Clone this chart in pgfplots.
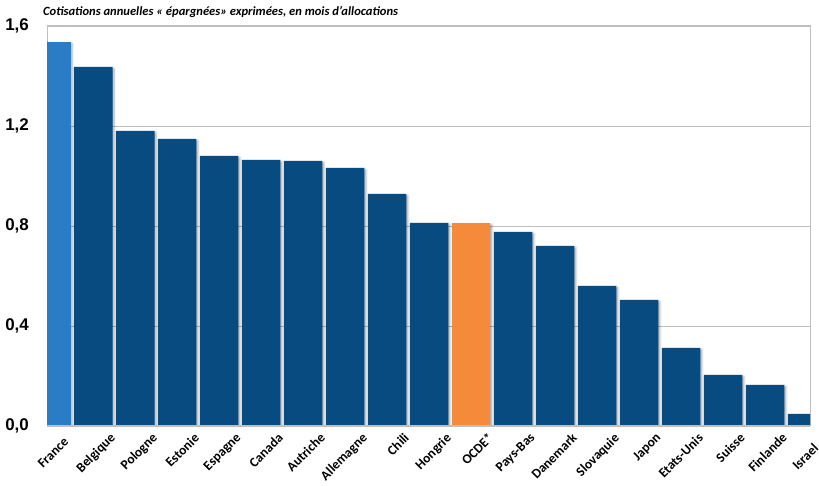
\documentclass[border=0pt]{standalone}
\usepackage{pgfplots}
\pgfplotsset{compat=1.18}
\usepackage{fontspec}
\setmainfont{Carlito}
\newfontfamily\numfont{Liberation Sans}
\usetikzlibrary{shadows.blur}

\definecolor{barblue}{HTML}{074B80}
\definecolor{frblue}{HTML}{2A7DC4}
\definecolor{oecdorange}{HTML}{F58A3A}
\definecolor{gridgray}{HTML}{BFBFBF}

\begin{document}
\begin{tikzpicture}[x=1bp,y=1bp]
\useasboundingbox (0,0) rectangle (819,486);
\begin{axis}[
  at={(47bp,60bp)}, anchor=south west,
  width=763bp, height=400bp, scale only axis,
  ybar, bar width=0.92,
  xmin=-0.1, xmax=18.07,
  ymin=0, ymax=1.6,
  ytick={0,0.4,0.8,1.2,1.6},
  xtick={0,...,18},
  xticklabels={France\kern6bp,Belgique,Pologne,Estonie,Espagne,Canada,Autriche,Allemagne,Chili,Hongrie,OCDE*,Pays-Bas,Danemark,Slovaquie,Japon,Etats-Unis,Suisse,Finlande,Israel\kern15bp},
  x tick label style={font=\fontsize{13.5}{15}\selectfont\bfseries, inner sep=0pt, xshift=16bp, yshift=-6bp, rotate=45, anchor=north east},
  y tick label style={font=\fontsize{17}{19}\selectfont\numfont\bfseries, inner sep=0pt, xshift=-18bp},
  /pgf/number format/.cd, use comma, fixed, fixed zerofill, precision=1, assume math mode=true,
  /pgfplots/.cd,
  ymajorgrids, grid style={gridgray, line width=0.8pt},
  major tick length=0pt,
  axis line style={gridgray, line width=1pt},
  clip=true,
]
% Belgique to Israel
\addplot[fill=barblue, draw=none, bar shift=0pt,
  blur shadow={shadow xshift=1.5bp, shadow yshift=-1.5bp, shadow blur radius=2bp, shadow opacity=35}]
  coordinates {
  (1,1.436) (2,1.180) (3,1.148) (4,1.080) (5,1.064) (6,1.060) (7,1.032)
  (8,0.928) (9,0.812) (11,0.776) (12,0.720) (13,0.560) (14,0.504)
  (15,0.312) (16,0.204) (17,0.164) (18,0.048)};
% France
\addplot[fill=frblue, draw=none, bar shift=0pt,
  blur shadow={shadow xshift=1.5bp, shadow yshift=-1.5bp, shadow blur radius=2bp, shadow opacity=35}]
  coordinates {(0,1.536)};
% OECD average
\addplot[fill=oecdorange, draw=none, bar shift=0pt,
  blur shadow={shadow xshift=1.5bp, shadow yshift=-1.5bp, shadow blur radius=2bp, shadow opacity=35}]
  coordinates {(10,0.812)};
\draw[gridgray, line width=2pt] (rel axis cs:0,0) -- (rel axis cs:1,0);
\end{axis}
\node[anchor=base west, inner sep=0pt, font=\fontsize{12.6}{14}\selectfont\bfseries\itshape] at (43bp,470bp)
  {Cotisations annuelles « épargnées» exprimées, en mois d'allocations};
\end{tikzpicture}
\end{document}
